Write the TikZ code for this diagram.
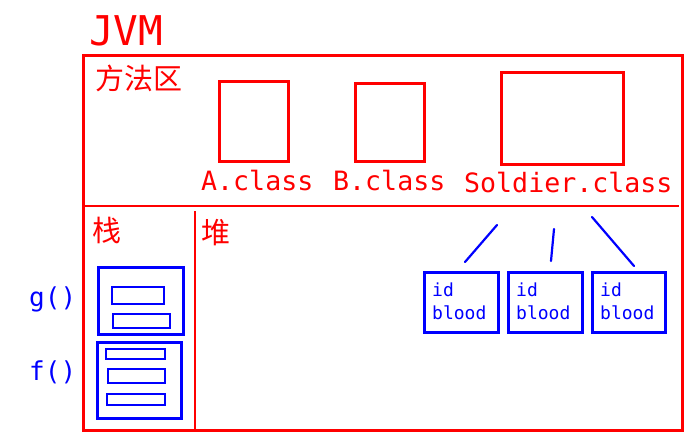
\documentclass[tikz,border=0pt]{standalone}
\usepackage{fontspec}
\newfontfamily\monof{DejaVu Sans Mono}
\newfontfamily\cjk{Noto Sans CJK SC}
\definecolor{jred}{RGB}{255,0,0}
\definecolor{jblue}{RGB}{0,0,255}
\begin{document}
\begin{tikzpicture}[x=1pt,y=-1pt,
  redbox/.style={draw=jred,line width=2.5pt,inner sep=0pt,anchor=north west},
  bluebox/.style={draw=jblue,line width=2.7pt,inner sep=0pt,anchor=north west},
  thinblue/.style={draw=jblue,line width=2.3pt,inner sep=0pt,anchor=north west},
  redtxt/.style={text=jred,inner sep=0pt,font=\monof\fontsize{26.6}{28}\selectfont,anchor=base west},
  cjktxt/.style={text=jred,inner sep=0pt,font=\cjk\fontsize{29}{30}\selectfont,anchor=west},
  bluetxt/.style={text=jblue,inner sep=0pt,font=\monof\fontsize{26}{28}\selectfont,anchor=base west},
  objtxt/.style={text=jblue,inner sep=0pt,font=\monof\fontsize{18}{20}\selectfont,anchor=base west},
  redline/.style={draw=jred,line width=2.5pt},
  blueline/.style={draw=jblue,line width=2.2pt,line cap=round}]
\useasboundingbox (0,0) rectangle (696,437);
% title
\node[text=jred,inner sep=0pt,font=\monof\fontsize{41}{44}\selectfont,anchor=base west] (jvm) at (89,45) {JVM};
% outer box
\node[redbox,minimum width=599pt,minimum height=375pt] (outer) at (82,54) {};
\coordinate (hdl) at (84,206);
\coordinate (hdr) at (679,206);
\draw[redline] (hdl) -- (hdr);
\coordinate (vdt) at (195,211);
\coordinate (vdb) at (195,429);
\draw[redline] (vdt) -- (vdb);
% method area
\node[cjktxt] (ff) at (95,78) {方法区};
\node[redbox,minimum width=69pt,minimum height=80pt] (acls) at (218,80) {};
\node[redbox,minimum width=69pt,minimum height=78pt] (bcls) at (354,82) {};
\node[redbox,minimum width=122pt,minimum height=92pt] (scls) at (500,71) {};
\node[redtxt] (alab) at (201,190) {A.class};
\node[redtxt] (blab) at (333,190) {B.class};
\node[redtxt] (slab) at (464,192) {Soldier.class};
% stack
\node[cjktxt] (zhan) at (92,230) {栈};
\node[cjktxt] (dui) at (201,233) {堆};
\node[bluebox,minimum width=85pt,minimum height=67pt] (gfr) at (97,266) {};
\node[thinblue,minimum width=52pt,minimum height=17pt] (g1) at (111,286) {};
\node[thinblue,minimum width=57pt,minimum height=14pt] (g2) at (112,313) {};
\node[bluebox,minimum width=84pt,minimum height=76pt] (ffr) at (96,341) {};
\node[thinblue,minimum width=59pt,minimum height=10pt] (f1) at (105,348) {};
\node[thinblue,minimum width=57pt,minimum height=14pt] (f2) at (107,368) {};
\node[thinblue,minimum width=58pt,minimum height=11pt] (f3) at (106,393) {};
\node[bluetxt] (glab) at (29,306) {g()};
\node[bluetxt] (flab) at (29,380) {f()};
% heap objects
\node[bluebox,minimum width=74pt,minimum height=60pt] (o1) at (423,271) {};
\node[bluebox,minimum width=74pt,minimum height=60pt] (o2) at (507,271) {};
\node[bluebox,minimum width=73pt,minimum height=60pt] (o3) at (591,271) {};
\node[objtxt] (o1a) at (432,296) {id};
\node[objtxt] (o1b) at (432,319) {blood};
\node[objtxt] (o2a) at (516,296) {id};
\node[objtxt] (o2b) at (516,319) {blood};
\node[objtxt] (o3a) at (600,296) {id};
\node[objtxt] (o3b) at (600,319) {blood};
% lines
\coordinate (l1a) at (497,225);
\coordinate (l1b) at (465,262);
\coordinate (l2a) at (554,229);
\coordinate (l2b) at (551,261);
\coordinate (l3a) at (592,217);
\coordinate (l3b) at (634,266);
\draw[blueline] (l1a) -- (l1b);
\draw[blueline] (l2a) -- (l2b);
\draw[blueline] (l3a) -- (l3b);
\end{tikzpicture}
\end{document}
